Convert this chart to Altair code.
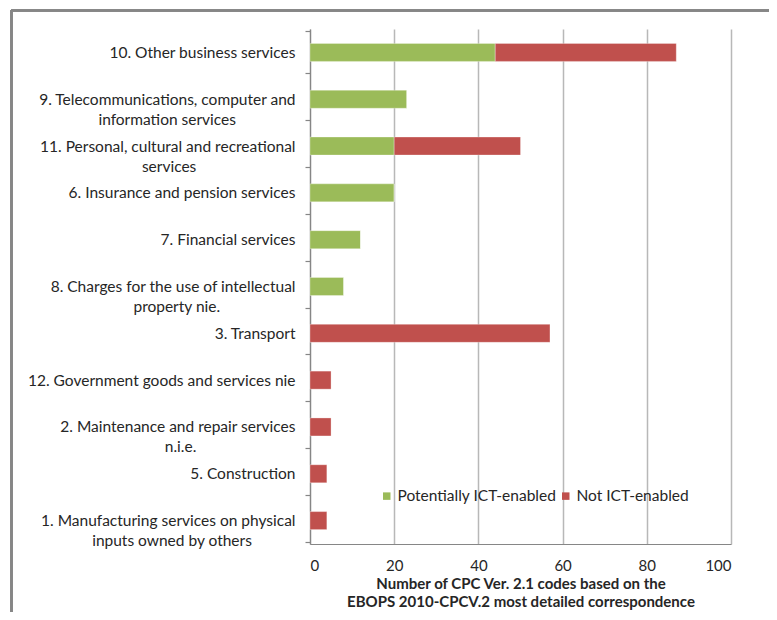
import altair as alt
import pandas as pd

categories = [
    "10. Other business services",
    "9. Telecommunications, computer and|information services",
    "11. Personal, cultural and recreational|services",
    "6. Insurance and pension services",
    "7. Financial services",
    "8. Charges for the use of intellectual|property nie.",
    "3. Transport",
    "12. Government goods and services nie",
    "2. Maintenance and repair  services|n.i.e.",
    "5. Construction",
    "1. Manufacturing services on physical|inputs owned by others",
]
potentially_ict = [44, 23, 20, 20, 12, 8, 0, 0, 0, 0, 0]
not_ict = [43, 0, 30, 0, 0, 0, 57, 5, 5, 4, 4]
series = ["Potentially ICT-enabled", "Not ICT-enabled"]
colors = ["#9BBB59", "#C0504D"]

# approximate glyph advance widths (em) used only to centre the second line of wrapped labels
_W = {" ": 0.193, ".": 0.23, ",": 0.23, "i": 0.23, "l": 0.23, "j": 0.23,
      "f": 0.31, "t": 0.33, "r": 0.35, "s": 0.42, "c": 0.46, "z": 0.45, "m": 0.84, "w": 0.77,
      "a": 0.49, "e": 0.52, "o": 0.55, "n": 0.56, "u": 0.56, "h": 0.56, "d": 0.56, "b": 0.56,
      "p": 0.56, "q": 0.56, "g": 0.50, "y": 0.50, "v": 0.50, "k": 0.50, "x": 0.49}
NBSP_W = 0.255


def _width(s):
    w = 0.0
    for ch in s:
        if ch in _W:
            w += _W[ch]
        elif ch.isdigit():
            w += 0.58
        elif ch.isupper():
            w += 0.66
        else:
            w += 0.52
    return w


def _label(c):
    parts = c.split("|")
    if len(parts) == 2:
        n = round((_width(parts[0]) - _width(parts[1])) / 2 / NBSP_W)
        # trailing no-break spaces, closed by a word joiner so they are not hung at line end
        parts[1] = parts[1] + "\u00a0" * max(n, 0) + "\u2060"
    return "|".join(parts)


labels = [_label(c) for c in categories]

rows = []
for lab, p, n in zip(labels, potentially_ict, not_ict):
    rows.append({"category": lab, "series": series[0], "order": 0, "value": p})
    rows.append({"category": lab, "series": series[1], "order": 1, "value": n})
df = pd.DataFrame(rows)

FONT = "Lato"
TXT = "#262626"

bars = alt.Chart(df).mark_bar(size=18, stroke="#ffffff", strokeWidth=0.6, strokeOpacity=0.5).encode(
    y=alt.Y("category:N", sort=labels, title=None,
            axis=alt.Axis(labelExpr="split(datum.label, '|')", labelFont=FONT, labelFontSize=15.5,
                          labelColor=TXT, labelLineHeight=20, labelLimit=300,
                          tickBand="extent", tickSize=5, tickColor="#868686", tickWidth=1.2,
                          domainColor="#868686", domainWidth=1.2, labelPadding=10, grid=False)),
    x=alt.X("value:Q", stack="zero", scale=alt.Scale(domain=[0, 100]),
            title=["Number of CPC Ver. 2.1 codes based on the", "EBOPS 2010-CPCV.2 most detailed correspondence"],
            axis=alt.Axis(values=[0, 20, 40, 60, 80, 100], ticks=False, labelFont=FONT, labelFontSize=15,
                          labelColor=TXT, labelPadding=14, domainColor="#868686", domainWidth=1.2,
                          gridColor="#b8b8b8", gridWidth=1.5,
                          titleFont=FONT, titleFontSize=15, titleFontWeight="bold", titleColor=TXT,
                          titleLineHeight=18, titleBaseline="top", titleY=32)),
    color=alt.Color("series:N", scale=alt.Scale(domain=series, range=colors),
                    legend=alt.Legend(title=None, orient="none", legendX=69, legendY=459,
                                      direction="horizontal", symbolType="square", symbolSize=56,
                                      symbolStrokeWidth=0, labelFont=FONT, labelFontSize=15.5,
                                      labelColor=TXT, columnPadding=1, labelOffset=3)),
    order=alt.Order("order:Q"),
)

frame_left = alt.Chart(df).mark_rule(color="#868686", strokeWidth=1.5).encode(
    x=alt.value(-298.5), y=alt.value(-18.5), y2=alt.value(600))
frame_top = alt.Chart(df).mark_rule(color="#868686", strokeWidth=1.5).encode(
    x=alt.value(-298.5), x2=alt.value(470), y=alt.value(-18.5))

chart = alt.layer(bars, frame_left, frame_top).properties(
    width=421, height=515,
    padding={"left": 302, "top": 21, "right": 38, "bottom": 68},
    autosize=alt.AutoSizeParams(type="none"),
    background="#ffffff",
).configure_view(stroke=None)

chart.save("out.html", embed_options={"renderer": "svg", "actions": False})
